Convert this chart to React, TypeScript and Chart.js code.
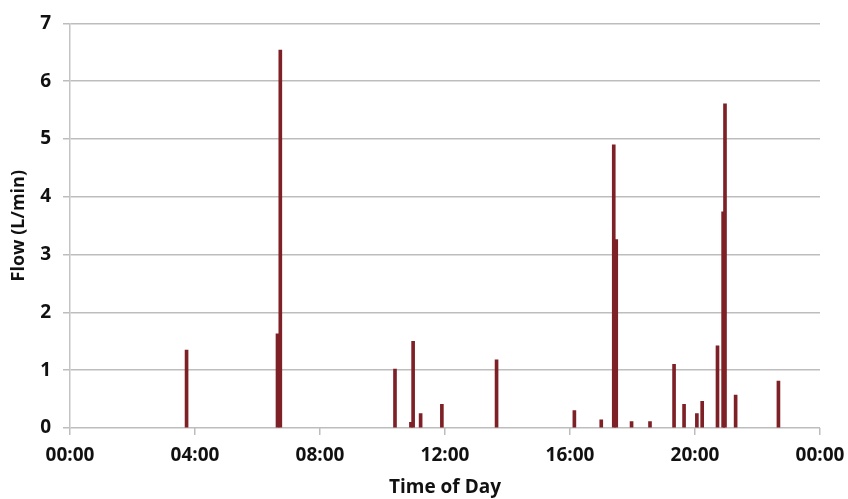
import React, { useEffect, useRef } from "react";
import { Chart, registerables } from "chart.js";

Chart.register(...registerables);

// Time of day in hours (0–24) for each flow event
const eventHours: number[] = [
  3.73, 6.64, 6.73, 10.4, 10.91, 10.98, 11.22, 11.9, 13.65,
  16.14, 17.0, 17.4, 17.48, 17.97, 18.56, 19.33, 19.65, 20.06,
  20.23, 20.72, 20.9, 20.96, 21.3, 22.67,
];
// Flow in L/min for each event
const flowValues: number[] = [
  1.35, 1.63, 6.54, 1.02, 0.1, 1.5, 0.25, 0.41, 1.18,
  0.3, 0.14, 4.9, 3.26, 0.11, 0.11, 1.1, 0.41, 0.25,
  0.46, 1.42, 3.74, 5.61, 0.57, 0.81,
];
const xTickHours: number[] = [0, 4, 8, 12, 16, 20, 24];
const xTickLabels: string[] = ["00:00", "04:00", "08:00", "12:00", "16:00", "20:00", "00:00"];
const yTickValues: number[] = [0, 1, 2, 3, 4, 5, 6, 7];

export default function App() {
  const ref = useRef<HTMLCanvasElement | null>(null);

  useEffect(() => {
    if (!ref.current) return;
    const points = eventHours.map((h, i) => ({ x: h, y: flowValues[i] }));
    const chart = new Chart(ref.current, {
      type: "bar",
      data: {
        datasets: [
          {
            data: points,
            backgroundColor: "#7e2127",
            borderWidth: 0,
            barThickness: 3,
            grouped: false,
          } as any,
        ],
      },
      options: {
        animation: false,
        responsive: false,
        maintainAspectRatio: false,
        layout: { padding: { top: 20, right: 28, left: 0, bottom: 0 } },
        plugins: { legend: { display: false }, tooltip: { enabled: false } },
        scales: {
          x: {
            type: "linear",
            min: 0,
            max: 24,
            offset: false,
            afterFit: (s: any) => {
              s.height = 71;
              s.paddingRight = 0;
            },
            afterBuildTicks: (s: any) => {
              s.ticks = xTickHours.map((v) => ({ value: v }));
            },
            ticks: {
              autoSkip: false,
              maxRotation: 0,
              padding: 9,
              color: "#111",
              font: { family: "'Open Sans', sans-serif", size: 19, weight: "bold" },
              callback: (v: any) => {
                const idx = xTickHours.indexOf(Number(v));
                return idx >= 0 ? xTickLabels[idx] : "";
              },
            },
            grid: {
              offset: false,
              drawOnChartArea: false,
              drawTicks: true,
              tickLength: 7,
              color: "#bdbdbd",
              lineWidth: 1.5,
            },
            border: { display: false },
            title: {
              display: true,
              text: "Time of Day",
              color: "#111",
              font: { family: "'Open Sans', sans-serif", size: 19, weight: "bold" },
              padding: { top: 0, bottom: 0 },
            },
          },
          y: {
            type: "linear",
            min: 0,
            max: 7,
            afterFit: (s: any) => {
              s.width = 70;
            },
            afterBuildTicks: (s: any) => {
              s.ticks = yTickValues.map((v) => ({ value: v }));
            },
            ticks: {
              padding: 12,
              color: "#111",
              font: { family: "'Open Sans', sans-serif", size: 19, weight: "bold" },
            },
            grid: {
              color: "#bdbdbd",
              lineWidth: 1.5,
              tickLength: 7,
            },
            border: { display: true, color: "#c4c4c4", width: 1.5 },
            title: {
              display: true,
              text: "Flow (L/min)",
              color: "#111",
              font: { family: "'Open Sans', sans-serif", size: 18, weight: "bold" },
              padding: { top: 8, bottom: 0 },
            },
          },
        },
      },
    });
    return () => chart.destroy();
  }, []);

  return (
    <div style={{ position: "fixed", left: 0, top: 0, width: 848, height: 499, background: "#fff" }}>
      <canvas ref={ref} width={848} height={499} style={{ width: 848, height: 499 }} />
    </div>
  );
}
